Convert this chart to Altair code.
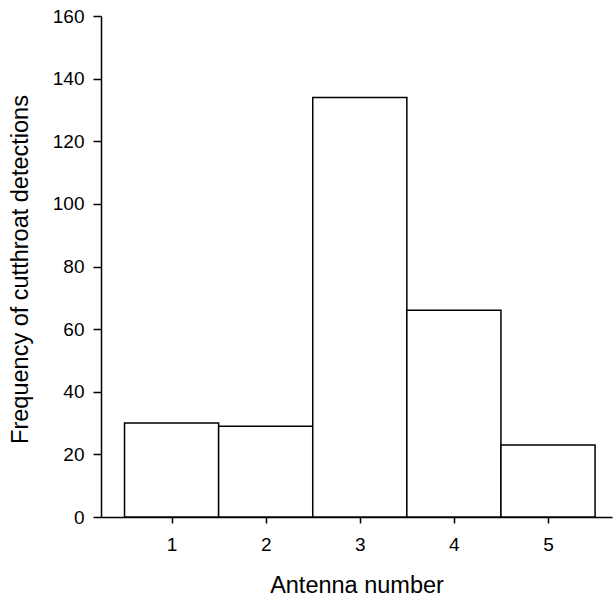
import altair as alt
import pandas as pd

antennas = [1, 2, 3, 4, 5]
detections = [30, 29, 134, 66, 23]
y_ticks = [0, 20, 40, 60, 80, 100, 120, 140, 160]

df = pd.DataFrame({"antenna": antennas, "count": detections})
df["lo"] = df["antenna"] - 0.5
df["hi"] = df["antenna"] + 0.5
df["base"] = 0

FONT = "Liberation Sans"

chart = alt.Chart(df).mark_bar(
    fill="white", stroke="black", strokeWidth=1.5
).encode(
    x=alt.X(
        "lo:Q",
        scale=alt.Scale(domain=[0.25, 5.68], nice=False, zero=False),
        axis=alt.Axis(
            values=antennas, title="Antenna number", format="d",
            tickSize=6, labelPadding=12,
            titleY=68, titleBaseline="middle",
        ),
    ),
    x2="hi:Q",
    y=alt.Y(
        "count:Q",
        scale=alt.Scale(domain=[0, 160], nice=False),
        axis=alt.Axis(
            values=y_ticks, title="Frequency of cutthroat detections",
            tickSize=8, labelPadding=9,
            titleX=-81, titleY=253, titleBaseline="middle",
        ),
    ),
    y2="base:Q",
).properties(
    width=511, height=501,
    padding={"left": 101, "top": 16, "right": 1, "bottom": 83},
    autosize="none",
).configure_view(stroke=None).configure_axis(
    grid=False, domainColor="black", tickColor="black", labelColor="black",
    titleColor="black", domainWidth=1.5, tickWidth=1.5,
    labelFont=FONT, titleFont=FONT, labelFontSize=19, titleFontSize=23.5,
    titleFontWeight="normal",
)

chart.save("out.html", embed_options={"renderer": "svg", "actions": False})
